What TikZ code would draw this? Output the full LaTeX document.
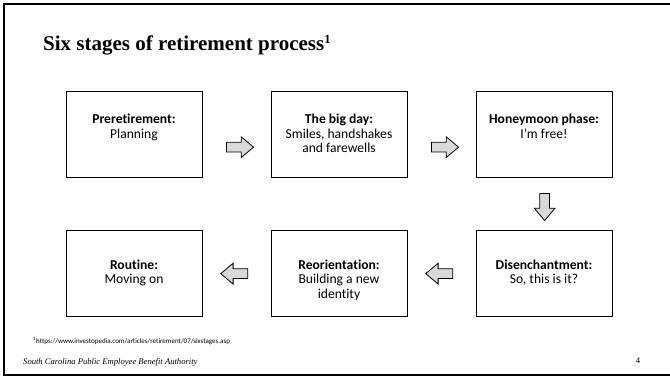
\documentclass[tikz,border=0pt]{standalone}
\usepackage{fontspec}
\setmainfont{Liberation Serif}
\newfontfamily\calibri[Ligatures=NoCommon]{Carlito}
\usetikzlibrary{shapes.arrows,calc}
\begin{document}
\begin{tikzpicture}[x=1pt,y=-1pt,
  stagebox/.style={draw, line width=1.3pt, minimum width=136pt, minimum height=86pt, inner sep=0pt, anchor=north west},
  stagetext/.style={anchor=base, inner sep=0pt, font=\calibri\fontsize{13.6}{14.5}\selectfont},
  blockarrow/.style={single arrow, draw, line width=0.8pt, fill=black!15,
    minimum height=27pt, single arrow head extend=5.5pt, single arrow tip angle=80,
    inner sep=0pt, text height=9pt, text depth=0pt, text width=9pt},
  frameline/.style={line width=2pt, line cap=rect}]
\useasboundingbox (0,0) rectangle (670,378);
\fill[white] (0,0) rectangle (670,378);
% slide frame
\coordinate (ftr) at (670,4);
\coordinate (ftl) at (4,4);
\coordinate (fbl) at (4,375);
\coordinate (fbr) at (670,375);
\draw[frameline] (ftr) -- (ftl) -- (fbl) -- (fbr);
% title
\node[anchor=base west, inner sep=0pt, font=\bfseries\fontsize{21}{24}\selectfont] (title) at (43,50) {Six stages of retirement process\raisebox{0.33em}{\fontsize{12.5}{13}\selectfont 1}};
% boxes
\node[stagebox] (b1) at (66,91) {};
\node[stagebox] (b2) at (271,91) {};
\node[stagebox] (b3) at (476,91) {};
\node[stagebox] (b4) at (476,230) {};
\node[stagebox] (b5) at (271,230) {};
\node[stagebox] (b6) at (66,230) {};
% texts
\node[stagetext] (t1) at (134,123.5) {\begin{tabular}[t]{@{}c@{}}\textbf{Preretirement:}\\Planning\end{tabular}};
\node[stagetext] (t2) at (339,123.5) {\begin{tabular}[t]{@{}c@{}}\textbf{The big day:}\\Smiles, handshakes\\and farewells\end{tabular}};
\node[stagetext] (t3) at (544,123.5) {\begin{tabular}[t]{@{}c@{}}\textbf{Honeymoon phase:}\\I’m free!\end{tabular}};
\node[stagetext] (t4) at (544,269) {\begin{tabular}[t]{@{}c@{}}\textbf{Disenchantment:}\\So, this is it?\end{tabular}};
\node[stagetext] (t5) at (339,269) {\begin{tabular}[t]{@{}c@{}}\textbf{Reorientation:}\\Building a new\\identity\end{tabular}};
\node[stagetext] (t6) at (134,269) {\begin{tabular}[t]{@{}c@{}}\textbf{Routine:}\\Moving on\end{tabular}};
% block arrows
\node[blockarrow] (a1) at ($(b1.east)!0.5!(b2.west)+(0,12.5)$) {};
\node[blockarrow] (a2) at ($(b2.east)!0.5!(b3.west)+(0,12.5)$) {};
\node[blockarrow, shape border rotate=270] (a3) at ($(b3.south)!0.5!(b4.north)$) {};
\node[blockarrow, shape border rotate=180] (a4) at ($(b4.west)!0.5!(b5.east)$) {};
\node[blockarrow, shape border rotate=180] (a5) at ($(b5.west)!0.5!(b6.east)$) {};
% footnote and footer
\node[anchor=west, inner sep=0pt, font=\calibri\fontsize{7}{8}\selectfont] (fn) at (33,341) {\textsuperscript{1}https://www.investopedia.com/articles/retirement/07/sixstages.asp};
\node[anchor=west, inner sep=0pt, font=\itshape\fontsize{8.6}{10}\selectfont] (foot) at (23,362) {South Carolina Public Employee Benefit Authority};
\node[inner sep=0pt, font=\fontsize{8.6}{10}\selectfont] (pg) at (638,361) {4};
\end{tikzpicture}
\end{document}
